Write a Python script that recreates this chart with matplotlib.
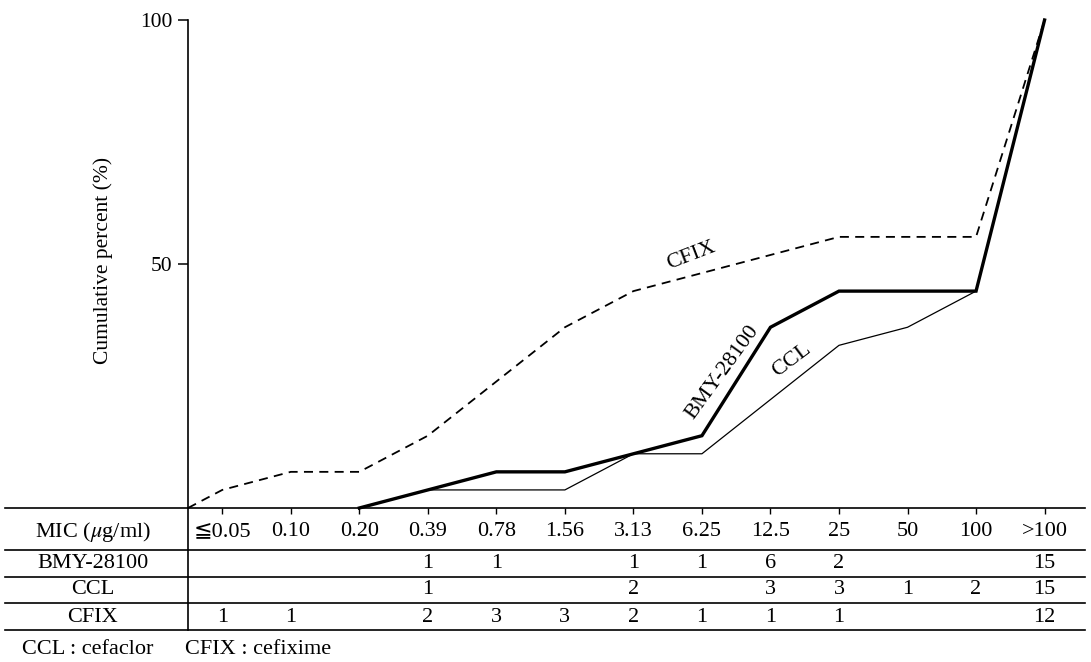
import numpy as np
import matplotlib
matplotlib.use("Agg")
import matplotlib.pyplot as plt
from matplotlib.transforms import blended_transform_factory
from matplotlib.lines import Line2D

plt.rcParams['font.family'] = ['Liberation Serif', 'DejaVu Serif', 'DejaVu Sans']
plt.rcParams['mathtext.fontset'] = 'stix'

# MIC classes (ug/ml) and number of strains in each class
mic = ['\u22660.05', '0.10', '0.20', '0.39', '0.78', '1.56', '3.13',
       '6.25', '12.5', '25', '50', '100', '>100']
bmy = [0, 0, 0, 1, 1, 0, 1, 1, 6, 2, 0, 0, 15]
ccl = [0, 0, 0, 1, 0, 0, 2, 0, 3, 3, 1, 2, 15]
cfix = [1, 1, 0, 2, 3, 3, 2, 1, 1, 1, 0, 0, 12]
row_names = ['BMY-28100', 'CCL', 'CFIX']

W, H = 1091, 662
fig = plt.figure(figsize=(W / 100, H / 100), dpi=100)
ax = fig.add_axes([188 / W, 1 - 508 / H, (1085 - 188) / W, (508 - 20) / H])
ax.set_xlim(-0.5, 12.59)
ax.set_ylim(0, 100)

x = np.arange(len(mic))


def curve(counts):
    c = np.array(counts, dtype=float)
    cum = np.cumsum(c) / c.sum() * 100
    first = int(np.nonzero(c)[0][0])
    # start one class before the first strain, or at the axis
    x0 = max(first - 1, -0.5)
    xs = np.concatenate([[x0], x[first:]])
    ys = np.concatenate([[0], cum[first:]])
    return xs, ys


xs, ys = curve(cfix)
ax.plot(xs, ys, color='black', lw=1.3, ls=(0, (5, 3.5)), clip_on=False)
xs, ys = curve(ccl)
ax.plot(xs, ys, color='black', lw=0.9, clip_on=False)
xs, ys = curve(bmy)
ax.plot(xs, ys, color='black', lw=2.4, solid_joinstyle='miter', clip_on=False)

ax.text(6.85, 51.8, 'CFIX', rotation=21, fontsize=16, ha='center', va='center')
ax.text(7.30, 27.7, 'BMY-28100', rotation=54, fontsize=16, ha='center', va='center')
ax.text(8.31, 30.3, 'CCL', rotation=37, fontsize=16, ha='center', va='center')

for s in ['top', 'right', 'bottom']:
    ax.spines[s].set_visible(False)
ax.spines['left'].set_linewidth(1.2)
ax.set_yticks([50, 100])
ax.tick_params(axis='y', direction='out', length=7, width=1.1, labelsize=15.5, pad=4)
ax.set_xticks(x)
ax.tick_params(axis='x', direction='out', length=4, width=1.0, labelbottom=False)
fig.text(103 / W, 1 - 260 / H, 'Cumulative percent (%)', rotation=90,
         fontsize=15.5, ha='center', va='center')

# table under the plot
tr = blended_transform_factory(ax.transData, fig.transFigure)


def fy(py):
    return 1 - py / H


for py in [508, 550, 577, 603, 630]:
    fig.add_artist(Line2D([5 / W, 1085 / W], [fy(py), fy(py)], color='black', lw=1.2))
fig.add_artist(Line2D([188 / W, 188 / W], [fy(508), fy(630)], color='black', lw=1.2))

row_y = [532, 564, 590, 617]
fig.text(93 / W, fy(row_y[0]), 'MIC ($\\mu$g/ml)', fontsize=16, ha='center', va='center')
for i, lab in enumerate(mic):
    ax.text(x[i], fy(row_y[0]), lab, transform=tr, fontsize=16, ha='center', va='center')

for name, counts, py in zip(row_names, [bmy, ccl, cfix], row_y[1:]):
    fig.text(93 / W, fy(py), name, fontsize=16, ha='center', va='center')
    for i, n in enumerate(counts):
        if n:
            ax.text(x[i], fy(py), str(n), transform=tr, fontsize=16, ha='center', va='center')

fig.text(22 / W, fy(650), 'CCL : cefaclor', fontsize=16, ha='left', va='center')
fig.text(185 / W, fy(650), 'CFIX : cefixime', fontsize=16, ha='left', va='center')

fig.savefig('out.png', dpi=100)
